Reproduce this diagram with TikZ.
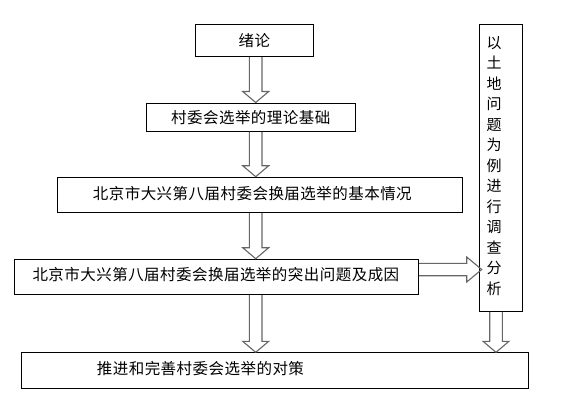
\documentclass[tikz,border=0pt]{standalone}
\usepackage{fontspec}
\newfontfamily\cjk[LetterSpace=3]{Noto Sans CJK SC}
\newfontfamily\cjkv{Noto Sans CJK SC}
\usetikzlibrary{calc}
\newcommand{\darrow}[2]{\draw[blk] let \p1=(#1), \p2=(#2) in
  (\x1-6.3pt,\y1) -- (\x1-6.3pt,\y2+11pt) -- (\x1-13pt,\y2+11pt) -- (\x1,\y2)
  -- (\x1+13pt,\y2+11pt) -- (\x1+6.3pt,\y2+11pt) -- (\x1+6.3pt,\y1);}
\newcommand{\rarrow}[2]{\draw[blk] let \p1=(#1), \p2=(#2) in
  (\x1,\y1+6.2pt) -- (\x2-15pt,\y1+6.2pt) -- (\x2-15pt,\y1+12.5pt) -- (\x2,\y1)
  -- (\x2-15pt,\y1-12.5pt) -- (\x2-15pt,\y1-6.2pt) -- (\x1,\y1-6.2pt);}
\begin{document}
\begin{tikzpicture}[x=1pt,y=-1pt,
  box/.style={draw=black,line width=0.8pt,inner sep=0pt,anchor=north west},
  blk/.style={draw=black!60,line width=1.1pt,line join=miter},
  lab/.style={font=\cjk\fontsize{15.5}{18}\selectfont,inner sep=0pt},
  vlab/.style={font=\cjkv\fontsize{15}{20.5}\selectfont,inner sep=0pt,align=center}]
\useasboundingbox (0,0) rectangle (575,418);
\node[box,minimum width=118pt,minimum height=32pt] (b1) at (195,24.3) {};
\node[box,minimum width=209.3pt,minimum height=28.5pt] (b2) at (145.7,102.5) {};
\node[box,minimum width=404.4pt,minimum height=35.6pt] (b3) at (57.3,176.7) {};
\node[box,minimum width=404pt,minimum height=35.6pt] (b4) at (14.3,258.7) {};
\node[box,minimum width=506.4pt,minimum height=36pt] (b5) at (21.3,352.3) {};
\node[box,minimum width=42.4pt,minimum height=286.7pt] (rb) at (479.3,24.3) {};
\node[lab] (t1) at (b1.center) {绪论};
\node[lab] (t2) at (b2.center) {村委会选举的理论基础};
\node[lab,anchor=west] (t3) at (92.7,193.3) {北京市大兴第八届村委会换届选举的基本情况};
\node[lab,anchor=west] (t4) at (32.3,275) {北京市大兴第八届村委会换届选举的突出问题及成因};
\node[lab,anchor=west] (t5) at (96.7,368.3) {推进和完善村委会选举的对策};
\node[vlab] (rt) at (494,166) {以\\土\\地\\问\\题\\为\\例\\进\\行\\调\\查\\分\\析};
\coordinate (ax) at (255.7,0);
\coordinate (bx) at (496,0);
\coordinate (hy) at (0,269.5);
\darrow{b1.south -| ax}{b2.north -| ax}
\darrow{b2.south -| ax}{b3.north -| ax}
\darrow{b3.south -| ax}{b4.north -| ax}
\darrow{b4.south -| ax}{b5.north -| ax}
\darrow{rb.south -| bx}{b5.north -| bx}
\rarrow{b4.east |- hy}{$(rb.west |- hy)+(2.4,0)$}
\end{tikzpicture}
\end{document}
